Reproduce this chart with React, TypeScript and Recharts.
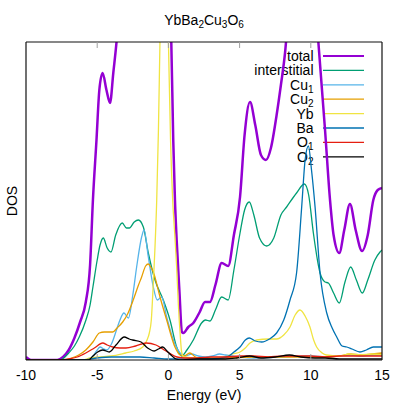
import React from "react";
import { LineChart, Line, XAxis, YAxis, Customized } from "recharts";

// energy grid ticks (eV)
const energyTicks = [-10, -5, 0, 5, 10, 15];

// DOS, [energy, dos] (arbitrary units, frame height = 318)
const totalDos: [number, number][] = [
  [-10, 3], [-9.8, 1], [-9.6, 0], [-7.8, 0], [-7.4, 3], [-7.0, 10], [-6.6, 22], [-6.2, 38],
  [-5.8, 58], [-5.5, 95], [-5.3, 160], [-5.05, 220], [-4.85, 270], [-4.62, 287], [-4.35, 270],
  [-4.1, 257], [-3.87, 287], [-3.6, 325], [-3.3, 390], [-2.5, 430], [-1.5, 450], [-0.5, 440],
  [0.0, 380], [0.2, 320], [0.34, 220], [0.46, 160], [0.58, 120], [0.77, 70], [0.95, 28],
  [1.05, 27], [1.4, 33], [1.75, 37], [2.2, 48], [2.57, 58], [2.92, 58], [3.3, 75], [3.74, 97],
  [4.2, 94], [4.6, 125], [5.03, 163], [5.35, 225], [5.73, 258], [6.1, 235], [6.5, 205],
  [6.85, 200], [7.2, 212], [7.6, 245], [7.9, 275], [8.19, 307], [8.5, 360], [9.3, 420],
  [10.0, 400], [10.4, 340], [10.53, 318], [11.0, 230], [11.35, 160], [11.6, 125], [12.0, 107],
  [12.35, 130], [12.75, 156], [13.15, 130], [13.6, 109], [14.0, 125], [14.39, 160],
  [14.7, 170], [15, 172],
];

const interstitialDos: [number, number][] = [
  [-10, 0], [-7.6, 0], [-7.0, 7], [-6.6, 14], [-6.26, 23], [-5.79, 40], [-5.5, 55], [-5.3, 73],
  [-5.0, 100], [-4.8, 115], [-4.57, 122], [-4.3, 112], [-4.03, 108], [-3.7, 125], [-3.24, 137],
  [-2.95, 132], [-2.74, 132], [-2.4, 138], [-2.11, 140], [-1.76, 133], [-1.41, 107],
  [-0.94, 80], [-0.36, 60], [0.11, 40], [0.58, 13], [0.93, 4], [1.3, 10], [1.75, 20],
  [2.33, 37], [2.6, 40], [2.92, 39], [3.3, 50], [3.74, 63], [4.2, 60], [4.6, 90], [5.03, 127],
  [5.35, 150], [5.68, 158], [6.0, 145], [6.4, 122], [6.9, 114], [7.4, 122], [7.9, 145],
  [8.3, 153], [9.0, 167], [9.55, 176], [9.85, 165], [10.18, 127], [10.65, 87], [11.0, 78],
  [11.23, 77], [11.6, 67], [12.0, 57], [12.4, 78], [12.8, 93], [13.2, 80], [13.62, 67],
  [14.0, 80], [14.5, 100], [14.86, 108], [15, 110],
];

const cu1Dos: [number, number][] = [
  [-10, 0], [-5.7, 0], [-5.3, 4], [-5.0, 10], [-4.8, 13], [-4.55, 11], [-4.33, 10], [-4.0, 16],
  [-3.6, 32], [-3.4, 40], [-3.12, 47], [-2.81, 42], [-2.5, 65], [-2.23, 93], [-1.88, 123],
  [-1.71, 130], [-1.41, 103], [-1.06, 73], [-0.78, 60], [-0.47, 63], [-0.12, 43], [0.35, 20],
  [0.82, 7], [1.2, 4], [1.63, 6], [2.1, 4], [2.6, 3], [3.1, 4], [3.6, 6], [4.0, 5], [4.5, 4],
  [5.0, 3], [6, 2], [8, 3], [10, 4], [11, 3], [12, 4], [12.8, 5], [13.5, 4], [14.3, 5], [15, 5],
];

const cu2Dos: [number, number][] = [
  [-10, 0], [-7.3, 0], [-6.8, 2], [-6.3, 5], [-5.8, 10], [-5.3, 18], [-4.85, 27], [-4.5, 28],
  [-4.2, 28], [-3.91, 28], [-3.6, 32], [-3.21, 38], [-2.9, 45], [-2.47, 60], [-2.1, 75],
  [-1.88, 83], [-1.6, 94], [-1.41, 96], [-1.2, 92], [-1.06, 88], [-0.59, 63], [-0.12, 40],
  [0.46, 13], [0.82, 5], [1.1, 4], [1.5, 7], [1.9, 3], [2.5, 1], [4, 2], [6, 3], [8, 3],
  [10, 3], [11, 3], [12, 4], [12.8, 6], [13.5, 5], [14.3, 6], [15, 7],
];

const ybDos: [number, number][] = [
  [-10, 0], [-6, 0], [-5.5, 2], [-5.0, 3], [-4, 4], [-3, 7], [-2.4, 9], [-1.8, 13], [-1.5, 20],
  [-1.34, 27], [-1.2, 40], [-1.06, 77], [-0.95, 110], [-0.82, 160], [-0.7, 230], [-0.59, 320],
  [-0.3, 500], [0.0, 320], [0.15, 220], [0.3, 160], [0.45, 125], [0.58, 93], [0.7, 55],
  [0.82, 27], [0.93, 8], [1.1, 3], [2, 2], [3, 2], [4, 3], [4.5, 6], [5.03, 8], [5.4, 12],
  [5.73, 17], [6.2, 20], [7.0, 21], [7.6, 21], [8.1, 25], [8.54, 33], [8.9, 45], [9.24, 50],
  [9.6, 44], [9.94, 33], [10.2, 20], [10.41, 13], [10.8, 7], [11.1, 5], [12, 4], [12.7, 6],
  [13.5, 5], [14.3, 6], [15, 5],
];

const baDos: [number, number][] = [
  [-10, 0], [-6, 0], [-5, 2], [-4, 3], [-3, 3], [-2, 3], [-1, 2], [0, 1], [1, 1], [2, 1],
  [3, 1], [4.1, 3], [4.6, 8], [5.03, 13], [5.4, 20], [5.68, 22], [6.1, 19], [6.55, 18],
  [7.1, 21], [7.6, 27], [8.1, 40], [8.54, 60], [9.0, 87], [9.36, 153], [9.6, 200], [9.83, 214],
  [10.05, 190], [10.3, 153], [10.65, 87], [11.12, 47], [11.5, 32], [11.82, 23], [12.2, 14],
  [12.52, 13], [12.9, 11], [13.45, 8], [13.9, 10], [14.39, 13], [15, 13],
];

const o1Dos: [number, number][] = [
  [-10, 0], [-7.6, 0], [-7.0, 1], [-6.4, 3], [-5.8, 7], [-5.2, 12], [-4.61, 17], [-4.3, 15],
  [-3.91, 13], [-3.4, 12], [-2.98, 12], [-2.3, 14], [-1.57, 17], [-0.87, 15], [-0.4, 11],
  [0.06, 7], [0.6, 3], [1.2, 2], [2, 2], [3, 3], [4, 3], [5, 4], [6, 4], [7, 3], [8, 4],
  [9, 4], [10, 4], [11, 3], [12, 4], [13, 4], [14, 4], [15, 4],
];

const o2Dos: [number, number][] = [
  [-10, 0], [-5.6, 0], [-5.3, 4], [-4.97, 8], [-4.61, 10], [-4.15, 8], [-3.68, 15], [-3.1, 23],
  [-2.75, 21], [-2.51, 20], [-1.92, 18], [-1.46, 12], [-0.99, 9], [-0.7, 11], [-0.4, 13],
  [-0.1, 9], [0.18, 5], [0.53, 1], [1, 0], [2, 1], [3, 1], [4, 1], [4.8, 2], [5.7, 4],
  [6.5, 2], [7.5, 3], [8.5, 5], [9.3, 3], [10.3, 2], [11, 2], [12, 1], [13, 1], [14, 1], [15, 1],
];

const series = [
  { name: "total", sub: "", color: "#9400d3", width: 2.5, pts: totalDos },
  { name: "interstitial", sub: "", color: "#009e73", width: 1.3, pts: interstitialDos },
  { name: "Cu", sub: "1", color: "#56b4e9", width: 1.3, pts: cu1Dos },
  { name: "Cu", sub: "2", color: "#e69f00", width: 1.3, pts: cu2Dos },
  { name: "Yb", sub: "", color: "#f0e442", width: 1.3, pts: ybDos },
  { name: "Ba", sub: "", color: "#0072b2", width: 1.3, pts: baDos },
  { name: "O", sub: "1", color: "#e51e10", width: 1.3, pts: o1Dos },
  { name: "O", sub: "2", color: "#000000", width: 1.3, pts: o2Dos },
];

const FONT = "'Liberation Sans', Arial, Helvetica, sans-serif";
const TICK_GREY = "#a0a0a0";
const FRAME = { stroke: "#111", strokeWidth: 1.2 };
const DOS_MAX = 318;

function BottomTick(props: any) {
  const { x, y, payload, index } = props;
  const edge = index === 0 || index === energyTicks.length - 1;
  return (
    <g>
      {!edge && <line x1={x} x2={x} y1={y} y2={y - 6} stroke={TICK_GREY} strokeWidth={1} />}
      <text x={x} y={y + 20} textAnchor="middle" fontSize={14} fill="#000" fontFamily={FONT}>
        {payload.value}
      </text>
    </g>
  );
}

function TopTick(props: any) {
  const { x, y, index } = props;
  if (index === 0 || index === energyTicks.length - 1) return <g />;
  return <line x1={x} x2={x} y1={y} y2={y + 6} stroke={TICK_GREY} strokeWidth={1} />;
}

function Overlay() {
  return (
    <g fontFamily={FONT} fill="#000">
      <text x={204} y={25} textAnchor="middle" fontSize={14}>
        YbBa<tspan fontSize={10} dy={3}>2</tspan>
        <tspan dy={-3}>Cu</tspan>
        <tspan fontSize={10} dy={3}>3</tspan>
        <tspan dy={-3}>O</tspan>
        <tspan fontSize={10} dy={3}>6</tspan>
      </text>
      {series.map((s, i) => {
        const ly = 56 + i * 14.4;
        return (
          <g key={i}>
            <text x={313.5} y={ly + 5} textAnchor="end" fontSize={14}>
              {s.name}
              {s.sub && (
                <tspan fontSize={10} dy={3}>
                  {s.sub}
                </tspan>
              )}
            </text>
            <line x1={323} x2={364} y1={ly} y2={ly} stroke={s.color} strokeWidth={s.width > 2 ? 2.2 : 1.3} />
          </g>
        );
      })}
    </g>
  );
}

export default function App() {
  return (
    <div style={{ position: "absolute", left: 0, top: 0, width: 407, height: 407, background: "#fff" }}>
      <LineChart width={407} height={407} margin={{ top: 40, right: 23, bottom: 0, left: 24 }}>
        <XAxis
          xAxisId="b"
          dataKey="e"
          type="number"
          domain={[-10, 15]}
          ticks={energyTicks}
          allowDataOverflow
          height={47}
          axisLine={FRAME}
          tickLine={false}
          tickSize={0}
          tickMargin={0}
          tick={(p: any) => <BottomTick {...p} />}
          label={(p: any) => {
            const vb = p.viewBox || { x: 26, y: 360, width: 356 };
            return (
              <text x={vb.x + vb.width / 2} y={vb.y + 40} textAnchor="middle" fontSize={14} fontFamily={FONT} fill="#000">
                Energy (eV)
              </text>
            );
          }}
        />
        <XAxis
          xAxisId="t"
          orientation="top"
          dataKey="e"
          type="number"
          domain={[-10, 15]}
          ticks={energyTicks}
          allowDataOverflow
          height={2}
          axisLine={FRAME}
          tickLine={false}
          tickSize={0}
          tickMargin={0}
          tick={(p: any) => <TopTick {...p} />}
        />
        <YAxis
          yAxisId="l"
          type="number"
          domain={[0, DOS_MAX]}
          allowDataOverflow
          width={2}
          tick={false}
          tickLine={false}
          axisLine={FRAME}
          label={(p: any) => {
            const vb = p.viewBox || { y: 42, height: DOS_MAX };
            const cy = vb.y + vb.height / 2;
            return (
              <text x={16.5} y={cy} transform={`rotate(-90 16.5 ${cy})`} textAnchor="middle" fontSize={14} fontFamily={FONT} fill="#000">
                DOS
              </text>
            );
          }}
        />
        <YAxis
          yAxisId="r"
          orientation="right"
          type="number"
          domain={[0, DOS_MAX]}
          allowDataOverflow
          width={2}
          tick={false}
          tickLine={false}
          axisLine={FRAME}
        />
        {series.map((s, i) => (
          <Line
            key={i}
            xAxisId="b"
            yAxisId="l"
            data={s.pts.map(([e, v]) => ({ e, v }))}
            dataKey="v"
            type="monotone"
            stroke={s.color}
            strokeWidth={s.width}
            dot={false}
            activeDot={false}
            isAnimationActive={false}
          />
        ))}
        <Customized component={Overlay} />
      </LineChart>
    </div>
  );
}
